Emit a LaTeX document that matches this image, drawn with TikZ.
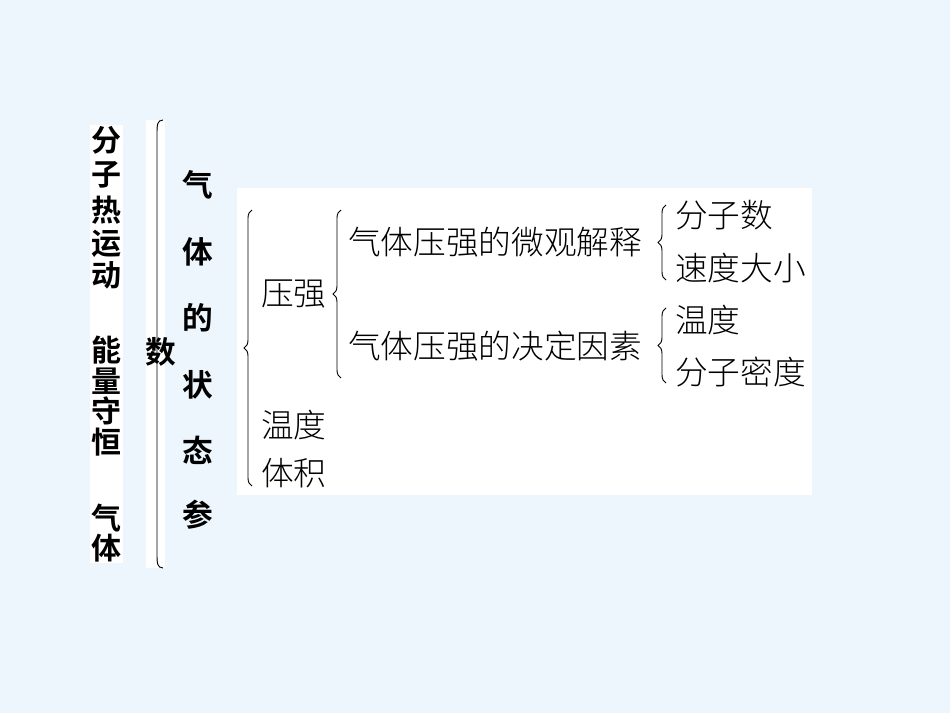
\documentclass[tikz,border=0pt]{standalone}
\usepackage{fontspec}
\newfontfamily\hei{Noto Sans CJK SC Bold}
\newfontfamily\song{Noto Sans CJK SC Light}
\usetikzlibrary{decorations.pathreplacing}
\definecolor{bg}{HTML}{EEF6FD}
\tikzset{
  px/.style={x=0.75pt,y=-0.75pt},
  lc/.style={font=\hei\fontsize{22.5}{22.5}\selectfont,inner sep=0pt},
  mc/.style={font=\hei\fontsize{23}{23}\selectfont,inner sep=0pt},
  tx/.style={font=\song\fontsize{24.5}{24.5}\selectfont,inner sep=0pt,anchor=west},
  br/.style={decorate,decoration={brace,amplitude=6pt},line width=0.7pt}
}
\begin{document}
\begin{tikzpicture}[px]
\fill[bg] (0,0) rectangle (950,713);
\useasboundingbox (0,0) rectangle (950,713);
\fill[white] (90,125) rectangle (123,563);
\fill[white] (146,120) rectangle (165,568);
\fill[white] (237,188) rectangle (812,495);
% left column
\foreach \c/\y [count=\i] in {分/140,子/175,热/210,运/244,动/275,能/350,量/381,守/411,恒/442,气/518,体/548}
  \node[lc] (l\i) at (106,\y) {\c};
% big bracket
\coordinate (bt) at (163,120);
\coordinate (bb) at (163,568);
\draw[line width=0.7pt] (bt) .. controls (157,120) and (157,126) .. (157,132) -- (157,556) .. controls (157,562) and (157,568) .. (bb);
\node[mc] (shu) at (161,352) {数};
\foreach \c/\y [count=\i] in {气/185,体/252,的/318,状/385,态/450,参/515}
  \node[mc] (m\i) at (198,\y) {\c};
% level 2
\node[tx] (yq) at (261,294) {压强};
\node[tx] (wd) at (261,425) {温度};
\node[tx] (tj) at (261,473) {体积};
\coordinate (b1a) at (252,486); \coordinate (b1b) at (252,210);
\draw[br] (b1a) -- (b1b);
% level 3
\node[tx] (wg) at (348,242) {气体压强的微观解释};
\node[tx] (jd) at (348,346) {气体压强的决定因素};
\coordinate (b2a) at (341,378); \coordinate (b2b) at (341,210);
\draw[br] (b2a) -- (b2b);
% level 4
\node[tx] (fz) at (675,215) {分子数};
\node[tx] (sd) at (675,268) {速度大小};
\node[tx] (wd2) at (675,320) {温度};
\node[tx] (md) at (675,372) {分子密度};
\coordinate (b3a) at (666,280); \coordinate (b3b) at (666,205);
\draw[br] (b3a) -- (b3b);
\coordinate (b4a) at (666,383); \coordinate (b4b) at (666,308);
\draw[br] (b4a) -- (b4b);
\end{tikzpicture}
\end{document}
